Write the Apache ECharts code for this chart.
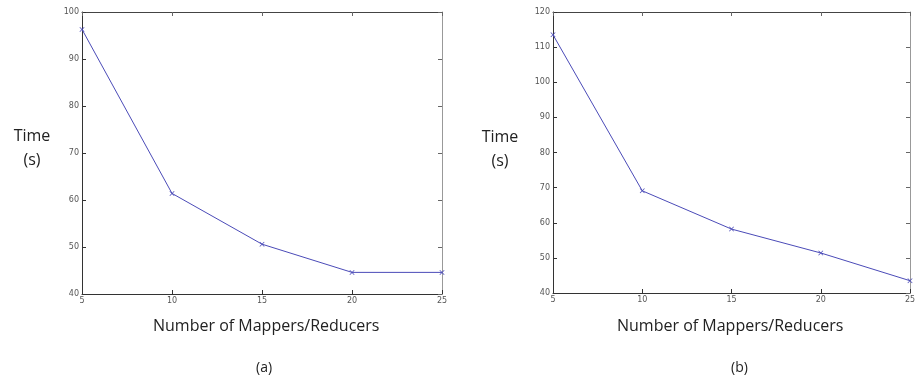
<!DOCTYPE html>
<html>
<head>
	<meta charset="UTF-8">
	<title>Time vs mappers/reducers</title>
	<script src="https://cdn.jsdelivr.net/npm/echarts@6/dist/echarts.min.js"></script>
	<style>
		body{margin:0;background:#fff;}
		#main{width:922px;height:383px;}
	</style>
</head>
<body>
<div id="main"></div>
<script>
	// data
	var mappers = [5, 10, 15, 20, 25];
	var timeA = [96.3, 61.4, 50.6, 44.6, 44.6];
	var timeB = [113.5, 69.1, 58.2, 51.4, 43.5];
	var yTicksA = [40, 100, 10];   // min, max, step
	var yTicksB = [40, 120, 10];

	function pairs(xs, ys) {
		var out = [];
		for (var i = 0; i < xs.length; i++) out.push([xs[i], ys[i]]);
		return out;
	}

	var lineCol = '#4b4bb8';
	var tickFont = {color: '#555', fontSize: 8, fontFamily: 'DejaVu Sans'};
	var xMark = 'path://M0,1L1,0L5,4L9,0L10,1L6,5L10,9L9,10L5,6L1,10L0,9L4,5Z';

	function xAxes(gi) {
		return [{
			gridIndex: gi, type: 'value', min: 5, max: 25, interval: 5,
			axisLine: {lineStyle: {color: '#333', width: 1}},
			axisTick: {inside: true, length: 4, lineStyle: {color: '#333'}},
			axisLabel: Object.assign({margin: 3}, tickFont),
			splitLine: {show: false}
		}, {
			gridIndex: gi, type: 'value', min: 5, max: 25, interval: 5, position: 'top',
			axisLine: {lineStyle: {color: '#444', width: 1}},
			axisTick: {inside: true, length: 4, lineStyle: {color: '#666'}},
			axisLabel: {show: false},
			splitLine: {show: false}
		}];
	}

	function yAxes(gi, t) {
		return [{
			gridIndex: gi, type: 'value', min: t[0], max: t[1], interval: t[2],
			axisLine: {show: true, lineStyle: {color: '#333', width: 1}},
			axisTick: {show: true, inside: true, length: 4, lineStyle: {color: '#333'}},
			axisLabel: Object.assign({margin: 3}, tickFont),
			splitLine: {show: false}
		}, {
			gridIndex: gi, type: 'value', min: t[0], max: t[1], interval: t[2], position: 'right',
			axisLine: {show: true, lineStyle: {color: '#999', width: 1}},
			axisTick: {show: true, inside: true, length: 4, lineStyle: {color: '#666'}},
			axisLabel: {show: false},
			splitLine: {show: false}
		}];
	}

	var txt = {fontFamily: 'Open Sans', fontSize: 16, color: '#222', fontWeight: 'normal'};
	var yName = Object.assign({lineHeight: 24, align: 'center'}, txt);

	var myChart = echarts.init(document.getElementById('main'));
	var option = {
		backgroundColor: '#fff',
		animation: false,
		grid: [
			{left: 82, top: 12, width: 360, height: 282},
			{left: 553, top: 12, width: 357, height: 281}
		],
		xAxis: xAxes(0).concat(xAxes(1)),
		yAxis: yAxes(0, yTicksA).concat(yAxes(1, yTicksB)),
		title: [
			{text: 'Time\n(s)', left: 32, top: 124, padding: 0, textAlign: 'center', textStyle: yName},
			{text: 'Time\n(s)', left: 500, top: 125, padding: 0, textAlign: 'center', textStyle: yName},
			{text: 'Number of Mappers/Reducers', left: 148, top: 313, textStyle: txt},
			{text: 'Number of Mappers/Reducers', left: 612, top: 313, textStyle: txt},
			{text: '(a)', left: 251, top: 356, textStyle: Object.assign({}, txt, {fontSize: 14})},
			{text: '(b)', left: 726, top: 356, textStyle: Object.assign({}, txt, {fontSize: 14})}
		],
		series: [{
			type: 'line', xAxisIndex: 0, yAxisIndex: 0,
			data: pairs(mappers, timeA),
			symbol: xMark, symbolSize: 5,
			lineStyle: {color: lineCol, width: 1},
			itemStyle: {color: lineCol}
		}, {
			type: 'line', xAxisIndex: 2, yAxisIndex: 2,
			data: pairs(mappers, timeB),
			symbol: xMark, symbolSize: 5,
			lineStyle: {color: lineCol, width: 1},
			itemStyle: {color: lineCol}
		}]
	};
	myChart.setOption(option);
</script>
</body>
</html>
